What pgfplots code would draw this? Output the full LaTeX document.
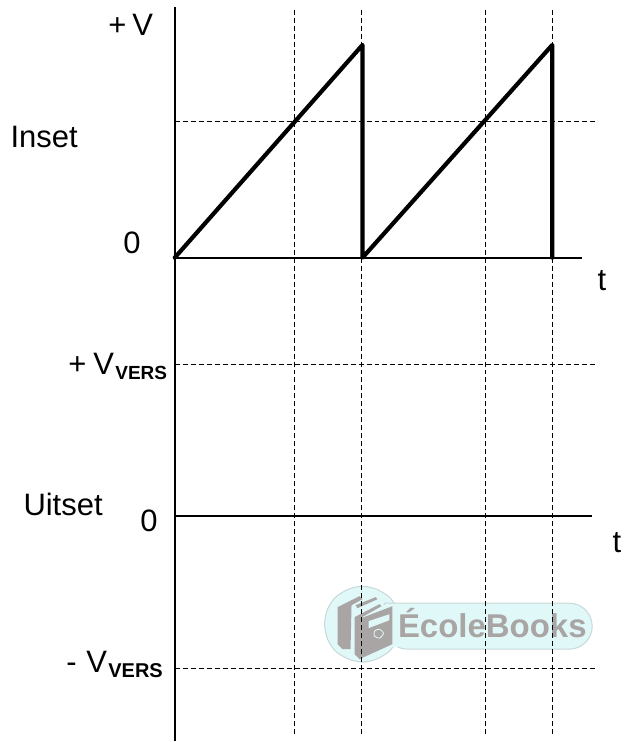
\documentclass[border=0pt]{standalone}
\usepackage{pgfplots}
\pgfplotsset{compat=1.18}
\usepackage{fontspec}
\setmainfont{Liberation Sans}
\definecolor{wmfill}{HTML}{E0F8F8}
\definecolor{wmedge}{HTML}{C8D8D8}
\definecolor{wmgrey}{HTML}{A9A5A5}
\tikzset{lab/.style={anchor=base west, font=\fontsize{31}{31}\selectfont},
  sub/.style={anchor=base west, font=\fontsize{19}{19}\selectfont\bfseries},
  griddash/.style={black, line width=0.8pt, dash pattern=on 5pt off 3pt}}
\begin{document}
\begin{tikzpicture}[x=1pt,y=1pt]
\begin{axis}[
  scale only axis,
  width=622pt, height=742pt,
  xmin=0, xmax=622, ymin=0, ymax=742,
  y dir=reverse,
  hide axis,
  clip=false,
  every node/.style={inner sep=0pt, outer sep=0pt},
]
% page extent
\addplot[white, line width=0pt, forget plot] coordinates {(0,0) (622,0) (622,742) (0,742) (0,0)};

% watermark badge: bar, disc, then a patch over the seam
\addplot[fill=wmfill, draw=wmedge, line width=1pt, smooth cycle, forget plot] coordinates {
  (363,587) (377,590) (390,598) (398,610) (401,625) (398,640) (390,652) (377,660)
  (363,663) (349,660) (336,652) (328,640) (325,625) (328,610) (336,598) (349,590)};
\addplot[fill=wmfill, draw=wmedge, line width=1pt, forget plot, rounded corners=23pt] coordinates {
  (385,604) (593,604) (593,650) (385,650) (385,604)};
\addplot[fill=wmfill, draw=none, forget plot] coordinates {(375,606) (404,606) (404,648) (375,648) (375,606)};
% books
\addplot[fill=wmgrey, draw=none, forget plot] coordinates {(338,608) (360,597) (363,600) (352,606) (351,650) (343,650) (338,645) (338,608)};
\addplot[fill=wmgrey, draw=none, forget plot] coordinates {(356,606) (376,598) (378,600) (358,609) (356,606)};
\addplot[fill=wmgrey, draw=none, forget plot] coordinates {(355,618) (380,605) (382,607) (359,620) (393,607) (393,645) (360,660) (355,655) (355,618)};
\addplot[fill=wmfill, draw=none, forget plot] coordinates {(369,622) (390,615) (390,621) (369,629) (369,622)};
\addplot[draw=wmfill, line width=0.8pt, smooth cycle, forget plot] coordinates {(380,630) (384,634) (380,639) (375,637) (375,632)};
\node[anchor=base west, text=wmgrey, font=\fontsize{33}{33}\selectfont\bfseries] at (axis cs:395,638) {ÉcoleBooks};

% dashed grid
\addplot[griddash, forget plot] coordinates {(295,10) (295,735)};
\addplot[griddash, forget plot] coordinates {(362,10) (362,735)};
\addplot[griddash, forget plot] coordinates {(486,10) (486,735)};
\addplot[griddash, forget plot] coordinates {(553,10) (553,735)};
\addplot[griddash, forget plot] coordinates {(175,122) (597,122)};
\addplot[griddash, forget plot] coordinates {(175,365) (597,365)};
\addplot[griddash, forget plot] coordinates {(175,669) (597,669)};

% axes
\addplot[black, line width=2pt, forget plot] coordinates {(175,7) (175,742)};
\addplot[black, line width=2pt, forget plot] coordinates {(175,258) (583,258)};
\addplot[black, line width=2pt, forget plot] coordinates {(175,517) (593,517)};

% sawtooth
\addplot[black, line width=4.2pt, line cap=round, line join=round, forget plot] coordinates {
  (175,258) (363,45) (363,258) (553,45) (553,258)};

% labels
\node[lab] at (axis cs:105,36) {+};
\node[lab] at (axis cs:129,36) {V};
\node[lab] at (axis cs:7,148) {Inset};
\node[lab] at (axis cs:120,254) {0};
\node[lab] at (axis cs:595,291) {t};
\node[lab] at (axis cs:65,375) {+};
\node[lab] at (axis cs:90,375) {V};
\node[sub] at (axis cs:112,380) {VERS};
\node[lab] at (axis cs:20,516) {Uitset};
\node[lab] at (axis cs:137,532) {0};
\node[lab] at (axis cs:610,553) {t};
\node[lab] at (axis cs:63,673) {-};
\node[lab] at (axis cs:83,673) {V};
\node[sub, font=\fontsize{20}{20}\selectfont\bfseries] at (axis cs:105,678) {VERS};
\end{axis}
\end{tikzpicture}
\end{document}
